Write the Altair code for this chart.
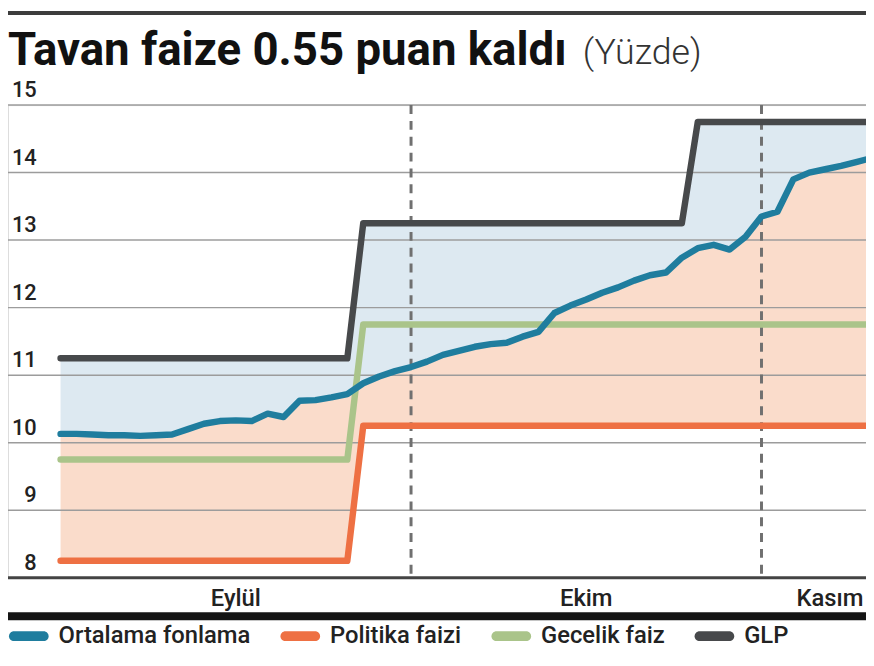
import altair as alt
import pandas as pd

# ---- data ----
day_index = list(range(52))  # trading-day index, 0 = first day shown (early Sept)
ortalama_fonlama = [10.13, 10.13, 10.12, 10.11, 10.11, 10.10, 10.11, 10.12, 10.20, 10.28,
                    10.32, 10.33, 10.32, 10.43, 10.38, 10.62, 10.63, 10.67, 10.72, 10.88,
                    10.98, 11.06, 11.12, 11.20, 11.30, 11.36, 11.42, 11.46, 11.48, 11.57,
                    11.64, 11.92, 12.03, 12.12, 12.22, 12.30, 12.40, 12.48, 12.52, 12.74,
                    12.88, 12.93, 12.86, 13.05, 13.35, 13.42, 13.90, 14.00, 14.05, 14.10,
                    14.16, 14.22]
politika_faizi = [8.25] * 19 + [10.25] * 33
gecelik_faiz = [9.75] * 19 + [11.75] * 33
glp = [11.25] * 19 + [13.25] * 21 + [14.75] * 12

series_names = ["Ortalama fonlama", "Politika faizi", "Gecelik faiz", "GLP"]
series_colors = ["#1f7d9e", "#ee7043", "#aac48a", "#47494b"]
draw_order = ["GLP", "Politika faizi", "Gecelik faiz", "Ortalama fonlama"]

y_ticks = [8, 9, 10, 11, 12, 13, 14, 15]
month_names = ["Eylül", "Ekim", "Kasım"]
month_label_pos = [11, 33, 48.3]
month_bounds = [22, 44]

# ---- tables ----
wide = pd.DataFrame({
    "idx": day_index,
    "Ortalama fonlama": ortalama_fonlama,
    "Politika faizi": politika_faizi,
    "Gecelik faiz": gecelik_faiz,
    "GLP": glp,
})
long = wide.melt(id_vars="idx", var_name="series", value_name="value")
grid_df = pd.DataFrame({"v": [t for t in y_ticks if t != 8]})
base_df = pd.DataFrame({"v": [8]})
tick_df = pd.DataFrame({"v": y_ticks, "label": [str(t) for t in y_ticks]})
month_df = pd.DataFrame({"name": month_names, "pos": month_label_pos})
bound_df = pd.DataFrame({"b": month_bounds})
one = pd.DataFrame({"a": [0]})

W, H = 866, 477
FONT = "Roboto, sans-serif"

xs = alt.Scale(domain=[-3.3, 50.56], nice=False, zero=False)
ys = alt.Scale(domain=[8, 15], nice=False, zero=False)
X = alt.X("idx:Q", scale=xs, axis=None)
color_scale = alt.Scale(domain=series_names, range=series_colors)

peach = alt.Chart(wide).mark_area(color="#fadccb", clip=True).encode(
    x=X, y=alt.Y("Politika faizi:Q", scale=ys, axis=None), y2="Ortalama fonlama:Q")
blue = alt.Chart(wide).mark_area(color="#dde9f1", clip=True).encode(
    x=X, y=alt.Y("Ortalama fonlama:Q", scale=ys, axis=None), y2="GLP:Q")

grid = alt.Chart(grid_df).mark_rule(color="#9c9c9c", strokeWidth=1.5).encode(
    y=alt.Y("v:Q", scale=ys, axis=None), x=alt.value(0), x2=alt.value(W))
baseline = alt.Chart(base_df).mark_rule(color="#444444", strokeWidth=3).encode(
    y=alt.Y("v:Q", scale=ys, axis=None), x=alt.value(0), x2=alt.value(W))

bounds = alt.Chart(bound_df).mark_rule(color="#707070", strokeWidth=3, strokeDash=[9, 7]).encode(
    x=alt.X("b:Q", scale=xs, axis=None), y=alt.value(0), y2=alt.value(H))

lines = []
for name in draw_order:
    lines.append(
        alt.Chart(long).transform_filter(alt.datum.series == name)
        .mark_line(strokeWidth=6.5, strokeCap="round", strokeJoin="round", clip=True)
        .encode(x=X, y=alt.Y("value:Q", scale=ys, axis=None),
                color=alt.Color("series:N", scale=color_scale, legend=None))
    )

pill = "M-1.5,-0.5 L1.5,-0.5 A0.5,0.5 0 0 1 1.5,0.5 L-1.5,0.5 A0.5,0.5 0 0 1 -1.5,-0.5 Z"
legend_layer = alt.Chart(long).transform_filter("false").mark_point(filled=True, opacity=1).encode(
    x=X, y=alt.Y("value:Q", scale=ys, axis=None),
    color=alt.Color("series:N", scale=color_scale, legend=alt.Legend(
        orient="none", legendX=9, legendY=524, direction="horizontal", columns=4,
        title=None, symbolType=pill, symbolSize=400, symbolStrokeWidth=0,
        labelFont=FONT, labelFontSize=24, labelFontWeight=500, labelColor="#222222",
        labelLimit=300, columnPadding=30, labelOffset=18)))

ylabels = alt.Chart(tick_df).mark_text(
    font=FONT, fontSize=22, fontWeight=500, color="#222222",
    align="right", baseline="alphabetic", dy=-8).encode(
    y=alt.Y("v:Q", scale=ys, axis=None), x=alt.value(29), text="label:N")

months = alt.Chart(month_df).mark_text(
    font=FONT, fontSize=24, fontWeight=500, color="#222222", align="center",
    baseline="alphabetic").encode(
    x=alt.X("pos:Q", scale=xs, axis=None), y=alt.value(506), text="name:N")

bottom_bar = alt.Chart(one).mark_rule(color="#151515", strokeWidth=8).encode(
    x=alt.value(0), x2=alt.value(W), y=alt.value(516))
top_bar = alt.Chart(one).mark_rule(color="#3d3d3d", strokeWidth=4).encode(
    x=alt.value(0), x2=alt.value(W), y=alt.value(-93))
unit = alt.Chart(pd.DataFrame({"t": ["(Yüzde)"]})).mark_text(
    font=FONT, fontSize=36, fontWeight=300, color="#333333",
    align="left", baseline="alphabetic").encode(
    x=alt.value(580), y=alt.value(-41), text="t:N")

chart = alt.layer(
    legend_layer, peach, blue, grid, baseline, bounds, *lines,
    ylabels, months, bottom_bar, top_bar, unit
).properties(
    width=W, height=H,
    title=alt.TitleParams("Tavan faize 0.55 puan kaldı", anchor="start", frame="group",
                          font=FONT, fontSize=46, fontWeight="bold", color="#111111",
                          baseline="alphabetic", offset=0, dy=101),
    autosize=alt.AutoSizeParams(type="none"),
    padding={"left": 0, "right": 0, "top": 95, "bottom": 70},
).configure_view(stroke=None).configure(background="white")

chart.save("out.html", embed_options={"renderer": "svg", "actions": False})
